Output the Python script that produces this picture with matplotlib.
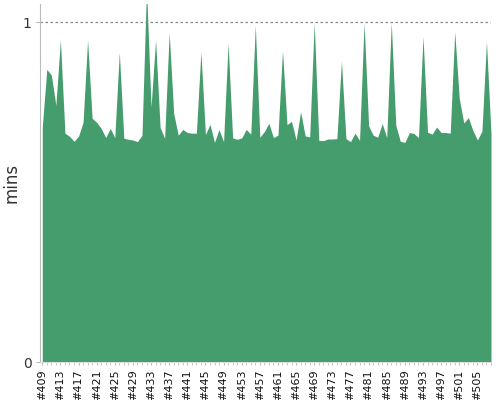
import numpy as np
import matplotlib
matplotlib.use("Agg")
import matplotlib.pyplot as plt
from matplotlib.ticker import MultipleLocator

# build numbers #409 .. #508
builds = list(range(409, 509))
mins = [
    0.69, 0.861, 0.844, 0.755, 0.947, 0.673, 0.664, 0.649, 0.664, 0.705,
    0.947, 0.717, 0.705, 0.687, 0.660, 0.687, 0.660, 0.910, 0.658, 0.655,
    0.653, 0.648, 0.667, 1.10, 0.750, 0.947, 0.690, 0.658, 0.968, 0.731,
    0.667, 0.684, 0.675, 0.673, 0.673, 0.912, 0.669, 0.699, 0.646, 0.684,
    0.648, 0.937, 0.659, 0.655, 0.659, 0.684, 0.670, 0.990, 0.661, 0.678,
    0.702, 0.660, 0.667, 0.916, 0.698, 0.708, 0.653, 0.736, 0.665, 0.662,
    0.998, 0.652, 0.651, 0.656, 0.656, 0.657, 0.885, 0.657, 0.648, 0.673,
    0.652, 0.998, 0.695, 0.667, 0.661, 0.701, 0.660, 0.998, 0.696, 0.649,
    0.646, 0.675, 0.672, 0.660, 0.957, 0.676, 0.670, 0.691, 0.675, 0.675,
    0.673, 0.971, 0.775, 0.703, 0.719, 0.681, 0.653, 0.679, 0.942, 0.672,
]
ylabel = "mins"

green = "#459c6c"
grey = "#bbbbbb"

fig = plt.figure(figsize=(5, 4), dpi=100)
ax = fig.add_axes([0.08, 0.095, 0.902, 0.895])

x = np.arange(len(builds))
ax.fill_between(x, 0, mins, color=green, linewidth=0)
ax.axhline(1, color="#888888", linestyle=(0, (2, 2)), linewidth=0.9)

ax.set_xlim(-0.5, len(builds) - 1)
ax.set_ylim(0, 1.053)

ax.set_yticks([0, 1])
ax.set_yticklabels(["0", "1"], fontsize=10, color="#333333")

ax.xaxis.set_minor_locator(MultipleLocator(1))
ax.set_xticks(x[::4])
ax.set_xticklabels([f"#{b}" for b in builds[::4]], rotation=90, fontsize=8, color="#111111")

ax.tick_params(axis="x", which="both", length=2.5, color=grey, pad=3)
ax.tick_params(axis="y", length=3, color=grey, pad=3)

for side in ["top", "right"]:
    ax.spines[side].set_visible(False)
ax.spines["left"].set_color(grey)
ax.spines["bottom"].set_color("#dddddd")

ax.set_ylabel(ylabel, fontsize=12, color="#333333")
ax.yaxis.set_label_coords(-0.044, 0.5)

fig.savefig("out.png", dpi=100)
